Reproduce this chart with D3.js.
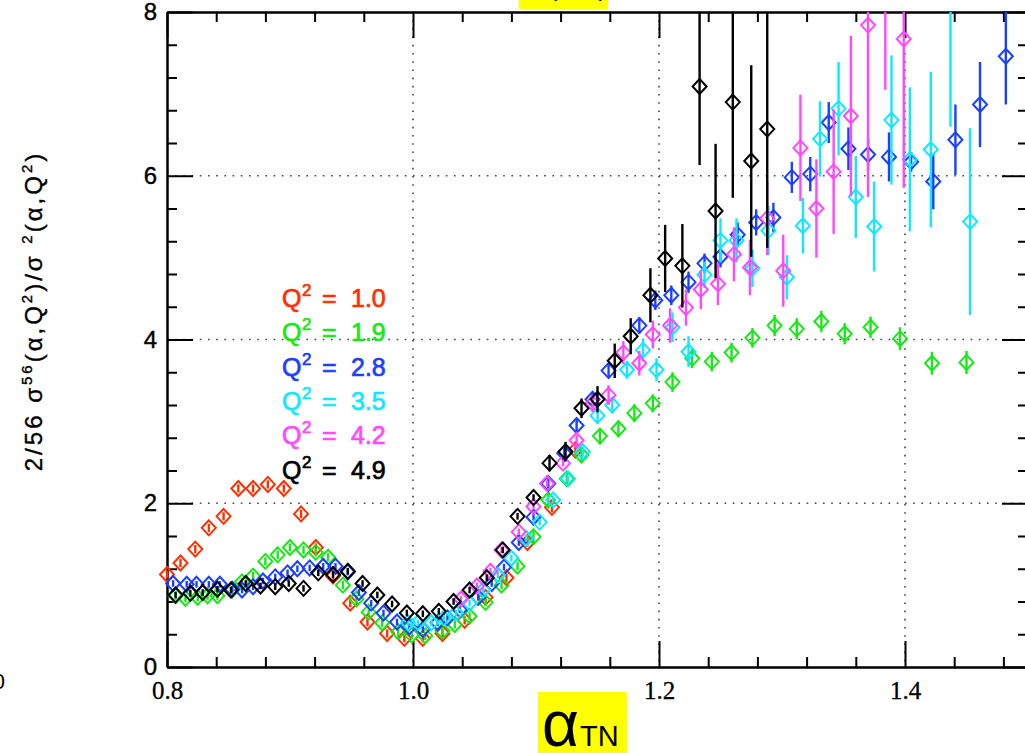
<!DOCTYPE html>
<html><head><meta charset="utf-8">
<script src="https://cdn.jsdelivr.net/npm/d3@7/dist/d3.min.js"></script>
<style>body{margin:0;background:#fff;overflow:hidden}svg{display:block}</style>
</head><body>
<svg id="c" width="1025" height="753"></svg>
<script>
// ---------- data ----------
const q2Labels = ["1.0","1.9","2.8","3.5","4.2","4.9"];
const xTickVals = [0.8,1.0,1.2,1.4];
const xTickLabels = ["0.8","1.0","1.2","1.4"];
const yTickVals = [0,2,4,6,8];
const yTickLabels = ["0","2","4","6","8"];
const xGridVals = [1.0,1.2,1.4];
const yGridVals = [2,4,6];

const redX = [0.800,0.811,0.823,0.834,0.846,0.858,0.870,0.882,0.895,0.909,0.921,0.935,0.949,0.963,0.979,0.993,1.008,1.024,1.042,1.059,1.076,1.093,1.113,1.132];
const redY = [1.13,1.27,1.44,1.70,1.84,2.18,2.18,2.23,2.18,1.87,1.46,1.11,0.78,0.55,0.41,0.35,0.35,0.41,0.57,0.85,1.09,1.52,1.95,2.65];
const redErr = [0.05,0.05,0.05,0.05,0.05,0.05,0.05,0.05,0.05,0.05,0.05,0.05,0.05,0.05,0.05,0.05,0.05,0.05,0.05,0.05,0.05,0.05,0.06,0.10];

const greenX = [0.807,0.815,0.825,0.833,0.841,0.853,0.861,0.870,0.880,0.890,0.900,0.911,0.921,0.931,0.943,0.954,0.964,0.975,0.988,0.999,1.010,1.024,1.034,1.046,1.059,1.072,1.085,1.098,1.110,1.125,1.137,1.152,1.167,1.180,1.195,1.211,1.227,1.243,1.259,1.276,1.294,1.312,1.332,1.351,1.372,1.396,1.422,1.450];
const greenY = [0.87,0.84,0.85,0.87,0.87,0.94,1.04,1.11,1.29,1.37,1.46,1.43,1.40,1.34,1.00,0.83,0.67,0.54,0.43,0.39,0.38,0.44,0.52,0.62,0.79,1.00,1.23,1.59,2.04,2.30,2.59,2.82,2.91,3.10,3.22,3.48,3.77,3.73,3.84,4.02,4.17,4.13,4.22,4.07,4.15,4.01,3.71,3.72];
const greenErr = [0.05,0.05,0.05,0.05,0.05,0.05,0.05,0.05,0.05,0.05,0.05,0.05,0.05,0.05,0.05,0.05,0.05,0.05,0.05,0.05,0.05,0.05,0.05,0.05,0.05,0.05,0.05,0.07,0.08,0.08,0.09,0.10,0.10,0.11,0.11,0.12,0.12,0.12,0.12,0.12,0.13,0.13,0.13,0.13,0.13,0.14,0.14,0.14];

const blueX = [0.805,0.816,0.824,0.834,0.843,0.853,0.861,0.870,0.878,0.888,0.898,0.906,0.916,0.927,0.937,0.947,0.956,0.966,0.976,0.987,0.997,1.008,1.020,1.028,1.038,1.053,1.064,1.074,1.086,1.098,1.110,1.123,1.133,1.146,1.159,1.184,1.197,1.210,1.224,1.237,1.250,1.264,1.279,1.293,1.308,1.323,1.338,1.354,1.370,1.387,1.405,1.423,1.441,1.461,1.482];
const blueY = [1.02,1.01,1.01,1.01,1.01,0.95,0.94,0.98,1.05,1.10,1.15,1.20,1.21,1.23,1.23,1.16,0.91,0.78,0.66,0.55,0.49,0.46,0.54,0.60,0.70,0.85,1.02,1.22,1.52,1.83,2.24,2.61,2.95,3.27,3.62,4.17,4.48,4.54,4.70,4.93,5.01,5.28,5.43,5.49,5.98,6.02,6.65,6.33,6.26,6.23,6.17,5.93,6.44,6.87,7.46];
const blueErr = [0.04,0.04,0.04,0.04,0.04,0.04,0.04,0.04,0.04,0.04,0.04,0.04,0.04,0.04,0.04,0.04,0.04,0.04,0.04,0.04,0.04,0.04,0.04,0.04,0.04,0.04,0.04,0.04,0.04,0.04,0.06,0.07,0.08,0.08,0.09,0.10,0.12,0.12,0.13,0.12,0.13,0.15,0.16,0.18,0.19,0.21,0.25,0.26,0.20,0.30,0.12,0.34,0.43,0.52,0.59];

const cyanX = [0.996,1.004,1.015,1.025,1.035,1.046,1.057,1.069,1.080,1.092,1.103,1.114,1.126,1.138,1.150,1.162,1.174,1.187,1.198,1.211,1.224,1.237,1.250,1.263,1.276,1.289,1.304,1.317,1.331,1.346,1.360,1.375,1.389,1.404,1.421,1.437,1.453];
const cyanY = [0.54,0.54,0.54,0.60,0.66,0.78,0.94,1.12,1.33,1.57,1.77,2.04,2.30,2.63,3.07,3.20,3.63,3.87,3.63,4.15,3.85,4.79,5.21,5.21,4.87,5.33,4.76,5.39,6.45,6.82,5.74,5.38,6.68,6.20,6.32,8.30,5.44];
const cyanErr = [0.04,0.04,0.04,0.04,0.04,0.04,0.04,0.04,0.04,0.04,0.04,0.04,0.04,0.06,0.10,0.10,0.11,0.14,0.14,0.18,0.19,0.16,0.27,0.27,0.23,0.30,0.27,0.34,0.46,0.57,0.50,0.55,0.79,0.88,0.95,1.70,1.14];

const magX = [1.039,1.052,1.063,1.072,1.086,1.098,1.109,1.122,1.133,1.146,1.159,1.171,1.184,1.195,1.209,1.222,1.234,1.248,1.261,1.274,1.288,1.301,1.315,1.328,1.342,1.356,1.370,1.384,1.399];
const magY = [0.83,0.99,1.17,1.43,1.65,1.96,2.24,2.49,2.77,3.22,3.32,3.84,3.71,4.06,4.17,4.39,4.61,4.68,5.04,4.88,5.48,4.84,6.34,5.60,6.05,6.73,7.84,8.60,7.67];
const magErr = [0.04,0.04,0.04,0.04,0.04,0.04,0.04,0.04,0.06,0.10,0.12,0.14,0.15,0.17,0.21,0.22,0.24,0.26,0.33,0.34,0.45,0.44,0.65,0.60,0.76,0.98,2.10,1.55,1.82];

const blackX = [0.807,0.819,0.829,0.841,0.852,0.864,0.876,0.888,0.899,0.911,0.923,0.935,0.947,0.959,0.971,0.983,0.995,1.008,1.021,1.033,1.046,1.060,1.073,1.085,1.098,1.111,1.124,1.137,1.150,1.164,1.177,1.193,1.205,1.219,1.233,1.246,1.260,1.275,1.288];
const blackY = [0.88,0.90,0.91,0.95,0.94,1.02,0.99,0.98,1.02,0.96,1.15,1.13,1.17,1.02,0.88,0.77,0.66,0.65,0.68,0.80,0.94,1.09,1.43,1.84,2.07,2.49,2.63,3.16,3.27,3.74,4.04,4.54,4.99,4.90,7.09,5.57,6.90,6.18,6.57];
const blackErr = [0.04,0.04,0.04,0.04,0.04,0.04,0.04,0.04,0.04,0.04,0.04,0.04,0.04,0.04,0.04,0.04,0.04,0.04,0.04,0.04,0.04,0.04,0.04,0.04,0.04,0.10,0.12,0.12,0.16,0.21,0.22,0.33,0.41,0.51,0.96,0.82,1.17,1.17,1.45];

const seriesColors = ["#ff3000","#18e818","#1c40ff","#10e8ff","#ff48ff","#000000"];
const seriesData = [
  [redX, redY, redErr],
  [greenX, greenY, greenErr],
  [blueX, blueY, blueErr],
  [cyanX, cyanY, cyanErr],
  [magX, magY, magErr],
  [blackX, blackY, blackErr]
];

// ---------- layout ----------
const svg = d3.select("#c");
const L = 167, R = 1028, T = 12, B = 667;
const x = d3.scaleLinear().domain([0.8, 1.5]).range([L, R]);
const y = d3.scaleLinear().domain([0, 8]).range([B, T]);

// top yellow title box (cut off)
svg.append("rect").attr("x",519).attr("y",0).attr("width",89).attr("height",9).attr("fill","#ffff00");
svg.append("text").attr("x",578).attr("y",-4).attr("text-anchor","middle")
  .attr("font-family","Liberation Sans").attr("font-size",26).text("(e,e')");

// grid
const grid = svg.append("g").attr("stroke","#444").attr("stroke-width",1.6).attr("stroke-dasharray","1.6 6.6");
grid.selectAll("line.gx").data(xGridVals).join("line").attr("class","gx")
  .attr("x1",d=>x(d)).attr("x2",d=>x(d)).attr("y1",T).attr("y2",B);
grid.selectAll("line.gy").data(yGridVals).join("line").attr("class","gy")
  .attr("x1",L).attr("x2",R).attr("y1",d=>y(d)).attr("y2",d=>y(d));

// axes
const xMinor = d3.range(0.84, 1.5, 0.04).filter(v => !xTickVals.some(t => Math.abs(t - v) < 1e-6));
const yMinor = d3.range(0.4, 8, 0.4).filter(v => !yTickVals.some(t => Math.abs(t - v) < 1e-6));

function styleAxis(g){
  g.selectAll(".domain").attr("stroke","#000").attr("stroke-width",2);
  g.selectAll(".tick line").attr("stroke","#000").attr("stroke-width",2);
}
// bottom
svg.append("g").attr("transform",`translate(0,${B})`)
  .call(d3.axisBottom(x).tickValues(xMinor).tickSize(-10).tickFormat("").tickSizeOuter(0)).call(styleAxis);
const gxb = svg.append("g").attr("transform",`translate(0,${B})`)
  .call(d3.axisBottom(x).tickValues(xTickVals).tickSize(-26).tickSizeOuter(0).tickPadding(8)
    .tickFormat((d,i)=>xTickLabels[i])).call(styleAxis);
gxb.selectAll(".tick text").attr("y",14).attr("font-family","Liberation Serif").attr("font-size",25)
  .attr("fill","#000").attr("stroke","#000").attr("stroke-width",0.3);
// top
svg.append("g").attr("transform",`translate(0,${T})`)
  .call(d3.axisTop(x).tickValues(xMinor).tickSize(-10).tickFormat("").tickSizeOuter(0)).call(styleAxis);
svg.append("g").attr("transform",`translate(0,${T})`)
  .call(d3.axisTop(x).tickValues(xTickVals).tickSize(-26).tickFormat("").tickSizeOuter(0)).call(styleAxis);
// left
svg.append("g").attr("transform",`translate(${L},0)`)
  .call(d3.axisLeft(y).tickValues(yMinor).tickSize(-10).tickFormat("").tickSizeOuter(0)).call(styleAxis);
const gyl = svg.append("g").attr("transform",`translate(${L},0)`)
  .call(d3.axisLeft(y).tickValues(yTickVals).tickSize(-26).tickSizeOuter(0).tickPadding(10)
    .tickFormat((d,i)=>yTickLabels[i])).call(styleAxis);
gyl.selectAll(".tick text").attr("font-family","Liberation Sans").attr("font-size",24)
  .attr("fill","#000").attr("stroke","#000").attr("stroke-width",0.4);
// right
svg.append("g").attr("transform",`translate(${R},0)`)
  .call(d3.axisRight(y).tickValues(yMinor).tickSize(-10).tickFormat("").tickSizeOuter(0)).call(styleAxis);
svg.append("g").attr("transform",`translate(${R},0)`)
  .call(d3.axisRight(y).tickValues(yTickVals).tickSize(-26).tickFormat("").tickSizeOuter(0)).call(styleAxis);

// data
svg.append("defs").append("clipPath").attr("id","clip")
  .append("rect").attr("x",0).attr("y",T).attr("width",R).attr("height",753-T);
const plot = svg.append("g").attr("clip-path","url(#clip)");
const hw = 7, hh = 7.5;
seriesData.forEach((s, si) => {
  const [xs, ys, es] = s;
  const pts = xs.map((v,i)=>({x:v, y:ys[i], e:es[i]}));
  const g = plot.append("g");
  g.selectAll("line").data(pts).join("line")
    .attr("x1",d=>x(d.x)).attr("x2",d=>x(d.x))
    .attr("y1",d=>y(d.y - d.e)).attr("y2",d=>y(d.y + d.e))
    .attr("stroke",seriesColors[si]).attr("stroke-width",2.4);
  g.selectAll("path").data(pts).join("path")
    .attr("transform",d=>`translate(${x(d.x)},${y(d.y)})`)
    .attr("d",`M0,${-hh}L${hw},0L0,${hh}L${-hw},0Z`)
    .attr("fill","none").attr("stroke",seriesColors[si]).attr("stroke-width",2);
});

// legend
const leg = svg.append("g").attr("font-family","Liberation Sans").attr("font-size",25);
q2Labels.forEach((lab,i)=>{
  const by = 307 + i*34.3;
  const c = seriesColors[i];
  const attrs = t => t.attr("fill",c).attr("stroke",c).attr("stroke-width",0.7);
  leg.append("text").attr("x",282).attr("y",by).text("Q").call(attrs);
  leg.append("text").attr("x",302).attr("y",by-11).attr("font-size",17).text("2").call(attrs);
  leg.append("text").attr("x",322).attr("y",by).text("=").call(attrs);
  leg.append("text").attr("x",351).attr("y",by).text(lab).call(attrs);
});

// y-axis title
const yt = svg.append("text").attr("transform","translate(42,311) rotate(-90)")
  .attr("text-anchor","middle").attr("font-family","Liberation Sans").attr("font-size",24)
  .attr("letter-spacing",3).attr("fill","#000").attr("stroke","#000").attr("stroke-width",0.4);
yt.append("tspan").text("2/56 σ");
yt.append("tspan").attr("font-size",15).attr("dy",-10).text("56");
yt.append("tspan").attr("dy",10).text("(α,Q");
yt.append("tspan").attr("font-size",15).attr("dy",-10).text("2");
yt.append("tspan").attr("dy",10).text(")/σ ");
yt.append("tspan").attr("font-size",15).attr("dy",-10).text("2");
yt.append("tspan").attr("dy",10).text("(α,Q");
yt.append("tspan").attr("font-size",15).attr("dy",-10).text("2");
yt.append("tspan").attr("dy",10).text(")");

// x-axis title in yellow box
svg.append("rect").attr("x",538).attr("y",692).attr("width",89).attr("height",61).attr("fill","#ffff00");
const xt = svg.append("text").attr("x",542).attr("y",746).attr("font-family","Liberation Sans").attr("fill","#000");
xt.append("tspan").attr("font-size",64).text("α");
xt.append("tspan").attr("font-size",29).attr("dx",1).text("TN");

// clipped stray text at left edge
svg.append("text").attr("x",5).attr("y",689).attr("text-anchor","end")
  .attr("font-family","Liberation Sans").attr("font-size",22).text("0");
</script>
</body></html>
